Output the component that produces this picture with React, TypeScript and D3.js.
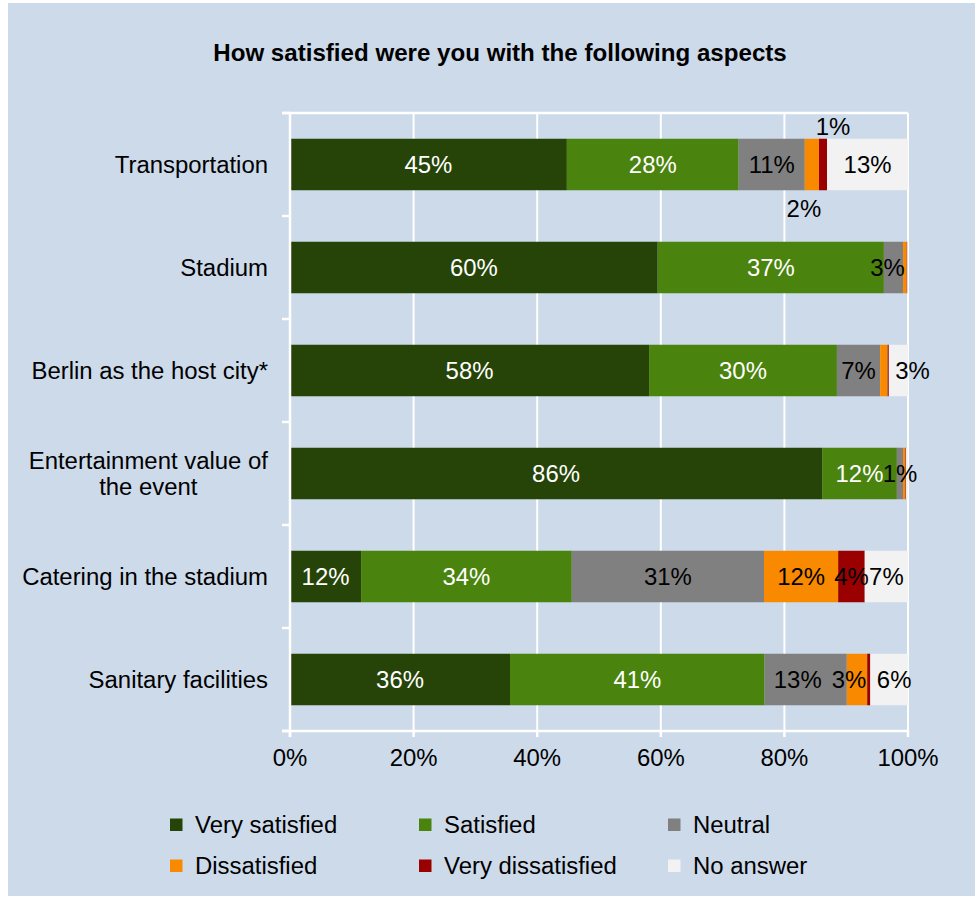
import React from 'react';
import * as d3 from 'd3';

const categories = [
  'Transportation',
  'Stadium',
  'Berlin as the host city*',
  'Entertainment value of\nthe event',
  'Catering in the stadium',
  'Sanitary facilities',
];
const seriesNames = ['Very satisfied', 'Satisfied', 'Neutral', 'Dissatisfied', 'Very dissatisfied', 'No answer'];
const seriesColors = ['#264407', '#4A830D', '#808080', '#F98A00', '#9B0000', '#F2F2F2'];
const labelColors = ['#FFFFFF', '#FFFFFF', '#000000', '#000000', '#000000', '#000000'];

const verySatisfied = [44.8, 59.5, 58.1, 86.1, 11.5, 35.6];
const satisfied = [27.8, 36.6, 30.4, 12.1, 34.1, 41.2];
const neutral = [10.7, 3.1, 7.0, 1.0, 31.1, 13.3];
const dissatisfied = [2.3, 0.6, 1.2, 0.4, 12.0, 3.3];
const veryDissatisfied = [1.3, 0.1, 0.2, 0.1, 4.3, 0.5];
const noAnswer = [13.1, 0.1, 3.1, 0.3, 7.0, 6.1];

const xTicks = [0, 20, 40, 60, 80, 100];
const title = 'How satisfied were you with the following aspects';

// labels not shown: `${series}-${category}`
const hiddenLabels = ['3-1', '4-1', '5-1', '3-2', '4-2', '3-3', '4-3', '5-3', '4-5'];
// manual label nudges (pixels)
const labelNudges: Record<string, [number, number]> = {
  '3-0': [-8, 44],
  '4-0': [10, -38],
  '2-1': [-6, 0],
  '5-2': [14, 0],
  '2-5': [-8, 0],
  '3-5': [-8, 0],
  '5-5': [5, 0],
};

const FONT = "'Liberation Sans', Arial, Helvetica, sans-serif";
const SX = 1.04;
const FS = 23;
const BASE = 8.2;

let measureCtx: CanvasRenderingContext2D | null = null;
function measure(text: string, size: number, weight = 'normal') {
  if (!measureCtx) measureCtx = document.createElement('canvas').getContext('2d');
  if (!measureCtx) return text.length * size * 0.5;
  measureCtx.font = `${weight} ${size}px 'Liberation Sans', Arial, sans-serif`;
  return measureCtx.measureText(text).width * SX;
}

function T({ x, y, size = FS, anchor = 'start', weight = 'normal', fill = '#000', children }: any) {
  return (
    <text
      transform={`translate(${x},${y}) scale(${SX},1)`}
      fontSize={size}
      textAnchor={anchor}
      fontWeight={weight}
      fill={fill}
      fontFamily={FONT}
    >
      {children}
    </text>
  );
}

export default function App() {
  const W = 976;
  const H = 897;
  const plot = { left: 290, right: 908, top: 113, bottom: 731 };

  const rows = categories.map((c, i) => ({
    cat: c,
    s0: verySatisfied[i],
    s1: satisfied[i],
    s2: neutral[i],
    s3: dissatisfied[i],
    s4: veryDissatisfied[i],
    s5: noAnswer[i],
  }));
  const keys = ['s0', 's1', 's2', 's3', 's4', 's5'];
  const stacked = d3.stack<any>().keys(keys)(rows);

  const x = d3.scaleLinear().domain([0, 100]).range([plot.left, plot.right]);
  const y = d3
    .scaleBand<string>()
    .domain(categories)
    .range([plot.top, plot.bottom])
    .paddingInner(0.5)
    .paddingOuter(0.25);
  const step = y.step();
  const bw = y.bandwidth();

  const white = '#FFFFFF';

  return (
    <svg
      width={W}
      height={H}
      style={{ position: 'absolute', left: 0, top: 0, display: 'block' }}
    >
      <rect x={0} y={0} width={W} height={H} fill="#FFFFFF" />
      <rect x={8} y={3} width={967} height={893} fill="#CDDAEA" />

      <T x={500} y={61} size={23.2} anchor="middle" weight="bold">
        {title}
      </T>

      {/* gridlines */}
      {xTicks.slice(1).map((t) => (
        <line key={t} x1={x(t)} x2={x(t)} y1={plot.top} y2={plot.bottom} stroke={white} strokeWidth={2} />
      ))}
      {/* top border line */}
      <line x1={plot.left - 8} x2={plot.right} y1={plot.top} y2={plot.top} stroke={white} strokeWidth={2.5} />

      {/* bars */}
      {stacked.map((layer, si) =>
        layer.map((d, ci) => (
          <rect
            key={`${si}-${ci}`}
            x={x(d[0])}
            y={y(categories[ci])!}
            width={Math.max(0, x(d[1]) - x(d[0]))}
            height={bw}
            fill={seriesColors[si]}
          />
        ))
      )}

      {/* y axis */}
      <line x1={plot.left} x2={plot.left} y1={plot.top} y2={plot.bottom + 6} stroke={white} strokeWidth={2.5} />
      {d3.range(categories.length + 1).map((i) => {
        const yy = plot.top + i * step;
        return <line key={i} x1={plot.left - 8} x2={plot.left} y1={yy} y2={yy} stroke={white} strokeWidth={2.5} />;
      })}
      {/* x axis */}
      <line x1={plot.left - 8} x2={plot.right} y1={plot.bottom} y2={plot.bottom} stroke={white} strokeWidth={2.5} />
      {xTicks.map((t) => (
        <line key={t} x1={x(t)} x2={x(t)} y1={plot.bottom} y2={plot.bottom + 6} stroke={white} strokeWidth={2.5} />
      ))}
      {xTicks.map((t) => (
        <T key={t} x={x(t)} y={plot.bottom + 27 + BASE} anchor="middle">
          {`${t}%`}
        </T>
      ))}

      {/* category labels */}
      {categories.map((c) => {
        const lines = c.split('\n');
        const cy = y(c)! + bw / 2;
        const lh = 26;
        if (lines.length === 1) {
          return (
            <T key={c} x={268} y={cy + BASE} anchor="end">
              {c}
            </T>
          );
        }
        const maxW = Math.max(...lines.map((l) => measure(l, FS)));
        const cx = 268 - maxW / 2;
        return (
          <g key={c}>
            {lines.map((l, li) => (
              <T key={li} x={cx} y={cy + BASE + (li - (lines.length - 1) / 2) * lh} anchor="middle">
                {l}
              </T>
            ))}
          </g>
        );
      })}

      {/* data labels */}
      {stacked.map((layer, si) =>
        layer.map((d, ci) => {
          const key = `${si}-${ci}`;
          if (hiddenLabels.includes(key)) return null;
          const v = d[1] - d[0];
          const nudge = labelNudges[key] || [0, 0];
          const cx = (x(d[0]) + x(d[1])) / 2 + nudge[0];
          const cy = y(categories[ci])! + bw / 2 + nudge[1];
          const outside = nudge[1] !== 0;
          return (
            <T key={key} x={cx} y={cy + BASE} anchor="middle" fill={outside ? '#000' : labelColors[si]}>
              {`${Math.round(v)}%`}
            </T>
          );
        })
      )}

      {/* legend */}
      {seriesNames.map((n, i) => {
        const col = i % 3;
        const row = Math.floor(i / 3);
        const lx = 170 + col * 249;
        const ly = 825 + row * 41;
        return (
          <g key={n}>
            <rect x={lx} y={ly - 6.5} width={12.5} height={12.5} fill={seriesColors[i]} />
            <T x={lx + 25} y={ly + BASE}>
              {n}
            </T>
          </g>
        );
      })}
    </svg>
  );
}
